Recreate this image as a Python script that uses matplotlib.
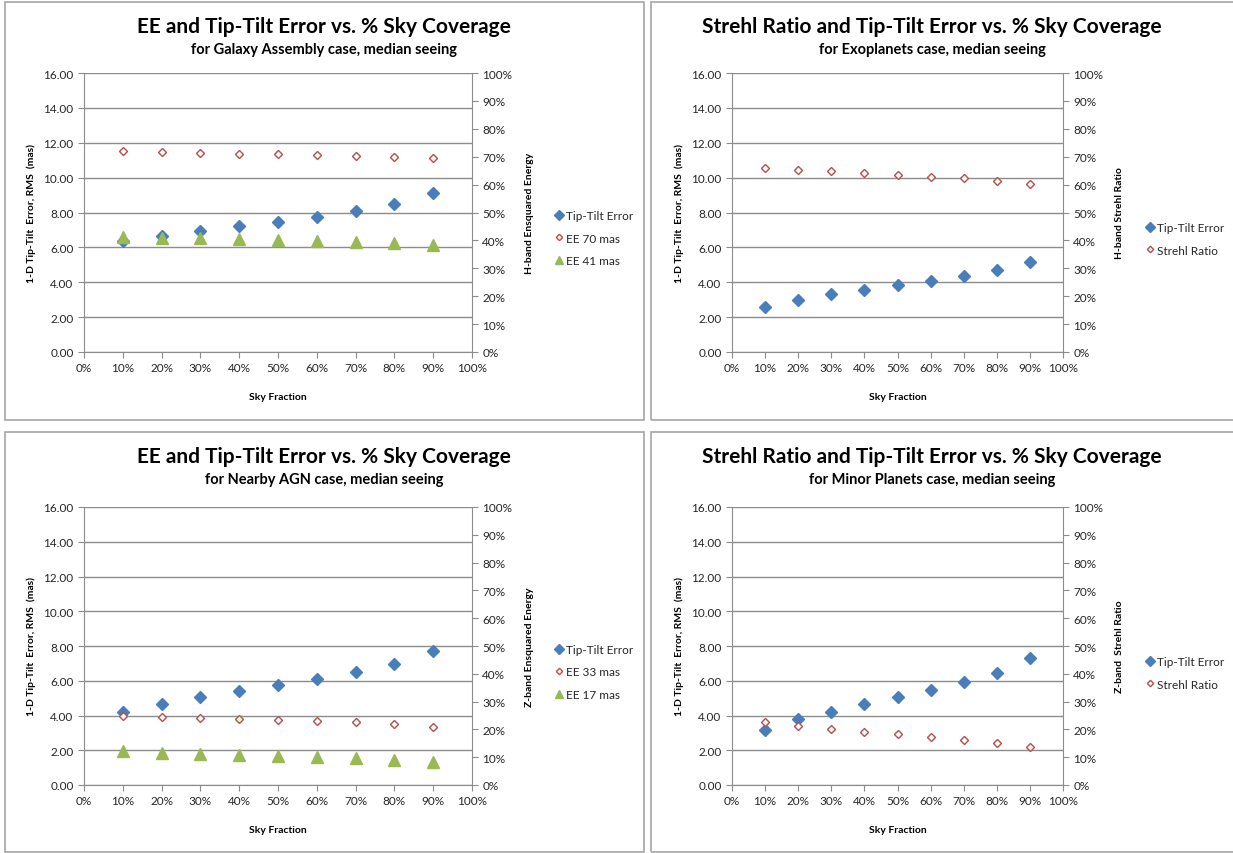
import matplotlib
matplotlib.use('Agg')
import matplotlib.pyplot as plt
from matplotlib.patches import Rectangle
from matplotlib.ticker import FuncFormatter, MultipleLocator

plt.rcParams['font.family'] = ['Lato', 'DejaVu Sans']

# ---- data ----
sky = [0.1, 0.2, 0.3, 0.4, 0.5, 0.6, 0.7, 0.8, 0.9]

galaxy_tt = [6.35, 6.67, 6.96, 7.20, 7.47, 7.76, 8.06, 8.47, 9.12]
galaxy_ee70 = [0.719, 0.716, 0.713, 0.711, 0.709, 0.706, 0.704, 0.700, 0.694]
galaxy_ee41 = [0.412, 0.410, 0.408, 0.405, 0.402, 0.398, 0.394, 0.391, 0.383]

exo_tt = [2.60, 2.99, 3.31, 3.58, 3.83, 4.08, 4.38, 4.71, 5.17]
exo_strehl = [0.660, 0.653, 0.647, 0.641, 0.635, 0.629, 0.622, 0.614, 0.602]

agn_tt = [4.18, 4.66, 5.04, 5.39, 5.73, 6.10, 6.48, 6.96, 7.73]
agn_ee33 = [0.249, 0.245, 0.241, 0.237, 0.234, 0.230, 0.225, 0.219, 0.210]
agn_ee17 = [0.121, 0.116, 0.113, 0.108, 0.104, 0.101, 0.096, 0.091, 0.084]

minor_tt = [3.15, 3.77, 4.23, 4.65, 5.08, 5.48, 5.92, 6.44, 7.29]
minor_strehl = [0.227, 0.213, 0.202, 0.191, 0.183, 0.173, 0.162, 0.151, 0.136]

BLUE = '#4a7ebb'
RED = '#be4b48'
GREEN = '#98b954'
GRID = '#8c8c8c'
TXT = '#262626'

W, H = 1233, 854
fig = plt.figure(figsize=(W / 100, H / 100), dpi=100)


def rect(x0, y0, x1, y1):
    return [x0 / W, 1 - y1 / H, (x1 - x0) / W, (y1 - y0) / H]


def fx(x):
    return x / W


def fy(y):
    return 1 - y / H


def panel(box, plot, title_x, title, subtitle, ylabel2, series, legend_y, ylab2_x, leg_x):
    bx0, by0, bx1, by1 = box
    fig.patches.append(Rectangle((fx(bx0), fy(by1)), fx(bx1 - bx0), (by1 - by0) / H,
                                 transform=fig.transFigure, fill=False,
                                 edgecolor='#a6a6a6', lw=1.2))
    px0, py0, px1, py1 = plot
    fig.text(fx(title_x), fy(by0 + 24), title, ha='center', va='center',
             fontsize=15, fontweight='bold', color='black')
    fig.text(fx(title_x), fy(by0 + 47), subtitle, ha='center', va='center',
             fontsize=10.5, fontweight='bold', color='black')

    ax = fig.add_axes(rect(px0, py0, px1, py1))
    ax.set_xlim(0, 1)
    ax.set_ylim(0, 16)
    ax.xaxis.set_major_locator(MultipleLocator(0.1))
    ax.yaxis.set_major_locator(MultipleLocator(2))
    ax.xaxis.set_major_formatter(FuncFormatter(lambda v, p: f'{v * 100:.0f}%'))
    ax.yaxis.set_major_formatter(FuncFormatter(lambda v, p: f'{v:.2f}'))
    ax.grid(axis='y', color=GRID, lw=1)
    ax.set_axisbelow(True)
    for s in ['top', 'right']:
        ax.spines[s].set_visible(False)
    for s in ['left', 'bottom']:
        ax.spines[s].set_color(GRID)
    ax.tick_params(colors=GRID, labelcolor=TXT, labelsize=8.5, length=4, direction='out')
    ax.tick_params(axis='x', pad=3)
    ax.set_ylabel('1-D Tip-Tilt  Error, RMS  (mas)', fontsize=7.5, fontweight='bold',
                  color='black', labelpad=5)
    ax.set_xlabel('Sky Fraction', fontsize=7.5, fontweight='bold', color='black', labelpad=14)

    ax2 = ax.twinx()
    ax2.set_ylim(0, 1)
    ax2.yaxis.set_major_locator(MultipleLocator(0.1))
    ax2.yaxis.set_major_formatter(FuncFormatter(lambda v, p: f'{v * 100:.0f}%'))
    for s in ['top', 'left', 'bottom']:
        ax2.spines[s].set_visible(False)
    ax2.spines['right'].set_color(GRID)
    ax2.tick_params(colors=GRID, labelcolor=TXT, labelsize=8.5, length=4, direction='out')
    fig.text(fx(ylab2_x), fy((py0 + py1) / 2), ylabel2, rotation=90, ha='center',
             va='center', fontsize=7.5, fontweight='bold', color='black')

    handles = []
    (tt_vals, tt_label) = series[0]
    h, = ax.plot(sky, tt_vals, 'D', color=BLUE, ms=6.5, mec=BLUE, ls='none',
                 label=tt_label, zorder=3)
    handles.append(h)
    for vals, label, kind in series[1:]:
        if kind == 'open':
            h, = ax2.plot(sky, vals, 'D', ms=4.3, mfc='white', mec=RED, mew=1.0,
                          ls='none', label=label, zorder=3)
        else:
            h, = ax2.plot(sky, vals, '^', ms=8, color=GREEN, mec=GREEN, ls='none',
                          label=label, zorder=3)
        handles.append(h)
    fig.legend(handles=handles, loc='center left',
               bbox_to_anchor=(fx(leg_x), fy(legend_y)), frameon=False,
               fontsize=8.5, handlelength=0.6, handletextpad=0.3, markerscale=0.75,
               labelspacing=0.95, borderaxespad=0, borderpad=0,
               labelcolor=TXT)
    return ax


panel((5, 3, 644, 421), (84, 74, 472, 353), 324,
      'EE and Tip-Tilt Error vs. % Sky Coverage',
      'for Galaxy Assembly case, median seeing',
      'H-band Ensquared Energy',
      [(galaxy_tt, 'Tip-Tilt Error'),
       (galaxy_ee70, 'EE 70 mas', 'open'),
       (galaxy_ee41, 'EE 41 mas', 'tri')],
      239, 530, 555)

panel((651, 3, 1245, 421), (732, 74, 1063, 353), 932,
      'Strehl Ratio and Tip-Tilt Error vs. % Sky Coverage',
      'for Exoplanets case, median seeing',
      'H-band Strehl Ratio',
      [(exo_tt, 'Tip-Tilt Error'),
       (exo_strehl, 'Strehl Ratio', 'open')],
      240, 1120, 1146)

panel((5, 433, 644, 853), (84, 508, 472, 786), 324,
      'EE and Tip-Tilt Error vs. % Sky Coverage',
      'for Nearby AGN case, median seeing',
      'Z-band Ensquared Energy',
      [(agn_tt, 'Tip-Tilt Error'),
       (agn_ee33, 'EE 33 mas', 'open'),
       (agn_ee17, 'EE 17 mas', 'tri')],
      673, 530, 555)

panel((651, 433, 1245, 853), (732, 508, 1063, 786), 932,
      'Strehl Ratio and Tip-Tilt Error vs. % Sky Coverage',
      'for Minor Planets case, median seeing',
      'Z-band  Strehl Ratio',
      [(minor_tt, 'Tip-Tilt Error'),
       (minor_strehl, 'Strehl Ratio', 'open')],
      674, 1120, 1146)

fig.savefig('out.png', dpi=100)
